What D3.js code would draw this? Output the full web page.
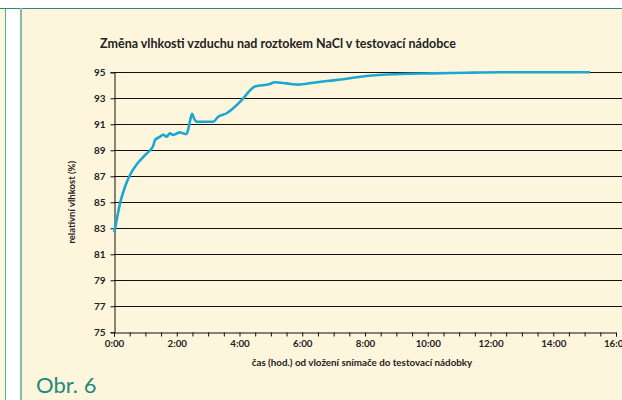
<!DOCTYPE html>
<html>
<head>
<meta charset="utf-8">
<script src="https://cdn.jsdelivr.net/npm/d3@7"></script>
<style>
  body { margin: 0; background: #fff; }
  svg { display: block; }
</style>
</head>
<body>
<div id="chart"></div>
<script>
// Data (time in hours since the sensor was inserted)
const hours = [0, 0.03, 0.06, 0.19, 0.35, 0.51, 0.72, 0.98, 1.15, 1.25, 1.31, 1.47, 1.57, 1.68, 1.78, 1.89,
    2.10, 2.20, 2.31, 2.36, 2.43, 2.49, 2.55, 2.63, 3.16, 3.32, 3.59, 3.80, 4.02, 4.12, 4.49, 4.97,
    5.12, 5.50, 5.87, 6.35, 6.88, 7.52, 8.05, 9.12, 10.18, 11.25, 12.3, 13.5, 15.17];
const humidity = [82.7, 82.9, 83.3, 84.9, 86.2, 87.1, 87.9, 88.6, 89.0, 89.35, 89.8, 90.05, 90.2, 90.05, 90.3, 90.18,
    90.38, 90.3, 90.25, 90.56, 91.33, 91.8, 91.46, 91.2, 91.2, 91.58, 91.85, 92.23, 92.74, 93.0, 93.9, 94.1,
    94.23, 94.15, 94.05, 94.2, 94.35, 94.54, 94.72, 94.87, 94.92, 94.97, 95.0, 95.0, 95.0];
const yTicks = [75, 77, 79, 81, 83, 85, 87, 89, 91, 93, 95];
const xLabelHours = [0, 2, 4, 6, 8, 10, 12, 14, 16];
const xLabels = ['0:00', '2:00', '4:00', '6:00', '8:00', '10:00', '12:00', '14:00', '16:00'];

const chartTitle = 'Změna vlhkosti vzduchu nad roztokem NaCl v testovací nádobce';
const xTitle = 'čas (hod.) od vložení snímače do testovací nádobky';
const yTitle = 'relativní vlhkost (%)';
const figLabel = 'Obr. 6';

//////////////////////////////////////////////////////////////////////
// Page frame
//////////////////////////////////////////////////////////////////////
const W = 622, H = 400;
const svg = d3.select('#chart').append('svg')
    .attr('width', W)
    .attr('height', H)
    .style('font-family', 'Lato, "Open Sans", sans-serif');

svg.append('rect').attr('x', 0).attr('y', 0).attr('width', W).attr('height', H).attr('fill', '#fff');

// left neighbour panel
svg.append('rect').attr('x', 0).attr('y', 8).attr('width', 6).attr('height', H - 8).attr('fill', '#fef6dc');
svg.append('line').attr('x1', 5.5).attr('x2', 5.5).attr('y1', 8).attr('y2', H)
    .attr('stroke', '#5aa79e').attr('stroke-width', 1);

// main panel
svg.append('rect').attr('x', 20).attr('y', 8).attr('width', W - 20).attr('height', H - 8).attr('fill', '#fef6dc');
svg.append('line').attr('x1', 0).attr('x2', W).attr('y1', 8.5).attr('y2', 8.5)
    .attr('stroke', '#2b8a80').attr('stroke-width', 1.2);
svg.append('line').attr('x1', 21).attr('x2', 21).attr('y1', 8).attr('y2', H)
    .attr('stroke', '#7fbdb5').attr('stroke-width', 2);

//////////////////////////////////////////////////////////////////////
// Scales and axes
//////////////////////////////////////////////////////////////////////
const x = d3.scaleLinear().domain([0, 16]).range([114, 616]);
const y = d3.scaleLinear().domain([75, 95]).range([332.3, 72.3]);

// gridlines
svg.append('g').selectAll('line')
    .data(yTicks.filter(d => d > 75))
    .join('line')
    .attr('x1', x(0)).attr('x2', W)
    .attr('y1', d => Math.round(y(d)) + 0.5).attr('y2', d => Math.round(y(d)) + 0.5)
    .attr('stroke', '#111').attr('stroke-width', 1);

// y axis
const yAxis = svg.append('g')
    .attr('transform', `translate(${Math.round(x(0)) + 0.5},0)`)
    .call(d3.axisLeft(y).tickValues(yTicks).tickSize(4).tickPadding(5).tickFormat(d3.format('d')));
yAxis.select('.domain').attr('stroke', '#111');
yAxis.selectAll('.tick line').attr('stroke', '#111');
yAxis.selectAll('text')
    .attr('fill', '#222')
    .style('font-size', '10px')
    .style('font-weight', 'bold')
    .style('font-family', 'Lato, sans-serif');

// x axis
const halfHours = d3.range(0, 16.01, 0.5);
const xAxis = svg.append('g')
    .attr('transform', `translate(0,${Math.round(y(75)) + 0.5})`)
    .call(d3.axisBottom(x).tickValues(halfHours).tickSize(4).tickPadding(4)
        .tickFormat(d => {
            const i = xLabelHours.indexOf(d);
            return i >= 0 ? xLabels[i] : '';
        }));
xAxis.select('.domain').attr('stroke', '#111');
xAxis.selectAll('.tick line').attr('stroke', '#111');
xAxis.selectAll('text')
    .attr('fill', '#222')
    .style('font-size', '9.8px')
    .style('font-weight', 'bold')
    .style('font-family', 'Lato, sans-serif');

//////////////////////////////////////////////////////////////////////
// Line
//////////////////////////////////////////////////////////////////////
const points = hours.map((h, i) => ({h, v: humidity[i]}));
svg.append('path')
    .datum(points)
    .attr('fill', 'none')
    .attr('stroke', '#1aa8d2')
    .attr('stroke-width', 2.6)
    .attr('stroke-linejoin', 'round')
    .attr('d', d3.line().x(d => x(d.h)).y(d => y(d.v)).curve(d3.curveMonotoneX));

//////////////////////////////////////////////////////////////////////
// Titles
//////////////////////////////////////////////////////////////////////
svg.append('text')
    .attr('x', 278).attr('y', 48)
    .attr('text-anchor', 'middle')
    .attr('fill', '#222')
    .style('font-size', '12.5px')
    .style('font-weight', 'bold')
    .text(chartTitle);

svg.append('text')
    .attr('x', 362).attr('y', 366)
    .attr('text-anchor', 'middle')
    .attr('fill', '#222')
    .style('font-size', '9.8px')
    .style('font-weight', 'bold')
    .text(xTitle);

svg.append('text')
    .attr('transform', `translate(75,${(y(75) + y(95)) / 2}) rotate(-90)`)
    .attr('text-anchor', 'middle')
    .attr('fill', '#222')
    .style('font-size', '9.5px')
    .style('font-weight', 'bold')
    .text(yTitle);

svg.append('text')
    .attr('x', 36).attr('y', 393)
    .attr('fill', '#1d8a80')
    .style('font-size', '22px')
    .text(figLabel);
</script>
</body>
</html>
